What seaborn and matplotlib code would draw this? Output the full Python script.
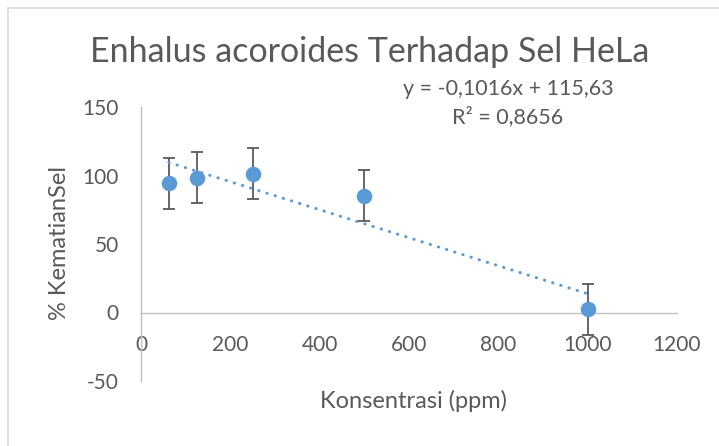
import numpy as np
import pandas as pd
import matplotlib
matplotlib.use("Agg")
import matplotlib.pyplot as plt
import seaborn as sns
from matplotlib.lines import Line2D

# data
konsentrasi = [62.5, 125, 250, 500, 1000]
kematian = [94.2, 98.5, 101.2, 85.4, 2.2]
sd = [18.5, 18.7, 18.6, 18.6, 18.9]
x_ticks = [0, 200, 400, 600, 800, 1000, 1200]
y_ticks = [-50, 0, 50, 100, 150]
title = "Enhalus acoroides Terhadap Sel HeLa"
eq_text = "y = -0,1016x + 115,63"
r2_text = "R² = 0,8656"

df = pd.DataFrame({"konsentrasi": konsentrasi, "kematian": kematian, "sd": sd})

sns.set_style("white")
plt.rcParams['font.family'] = ['Lato', 'DejaVu Sans']
plt.rcParams['axes.unicode_minus'] = False

blue = "#5b9bd5"
grey_txt = "#595959"
axis_col = "#bfbfbf"

W, H = 719, 446
fig = plt.figure(figsize=(W / 100, H / 100), dpi=100)
ax = fig.add_axes([141 / W, (H - 381) / H, 536 / W, 274 / H])

# error bars behind the markers
ax.errorbar(df["konsentrasi"], df["kematian"], yerr=df["sd"], fmt="none",
            ecolor=grey_txt, elinewidth=1.3, capsize=4.5, capthick=1.3, zorder=2)
sns.scatterplot(data=df, x="konsentrasi", y="kematian", ax=ax, s=125,
                color=blue, edgecolor=blue, linewidth=0, zorder=3)
# linear trendline
sns.regplot(data=df, x="konsentrasi", y="kematian", ax=ax, scatter=False,
            ci=None, truncate=True,
            line_kws={"color": blue, "lw": 2.2, "linestyle": (0, (0.1, 2.7)),
                      "dash_capstyle": "round", "zorder": 4})

ax.set_xlim(0, 1200)
ax.set_ylim(-50, 150)
ax.set_xticks(x_ticks)
ax.set_yticks(y_ticks)
ax.tick_params(axis="both", length=0, labelsize=15, labelcolor=grey_txt)
ax.tick_params(axis="x", pad=16)
ax.tick_params(axis="y", pad=16)

for s in ["top", "right"]:
    ax.spines[s].set_visible(False)
ax.spines["bottom"].set_position(("data", 0))
for s in ["left", "bottom"]:
    ax.spines[s].set_color(axis_col)
    ax.spines[s].set_linewidth(1.0)
ax.grid(False)

ax.set_xlabel("Konsentrasi (ppm)", fontsize=17, color=grey_txt, va="center")
ax.xaxis.set_label_coords((413 - 141) / 536, (381 - 401) / 274)
ax.set_ylabel("% KematianSel", fontsize=17, color=grey_txt, va="center")
ax.yaxis.set_label_coords((60 - 141) / 536, (381 - 243) / 274)

fig.text(370 / W, 1 - 52 / H, title, fontsize=24.5, color=grey_txt,
         ha="center", va="center")
fig.text(508 / W, 1 - 89 / H, eq_text, fontsize=15.5, color=grey_txt,
         ha="center", va="center")
fig.text(508 / W, 1 - 117 / H, r2_text, fontsize=15.5, color=grey_txt,
         ha="center", va="center")

# chart area border (only top and left visible in the crop)
fig.add_artist(Line2D([7.5 / W, 7.5 / W], [0, 1 - 7.5 / H], transform=fig.transFigure,
                      color="#d9d9d9", lw=1.2))
fig.add_artist(Line2D([7.5 / W, 1], [1 - 7.5 / H, 1 - 7.5 / H], transform=fig.transFigure,
                      color="#d9d9d9", lw=1.2))

fig.savefig("out.png", dpi=100)
